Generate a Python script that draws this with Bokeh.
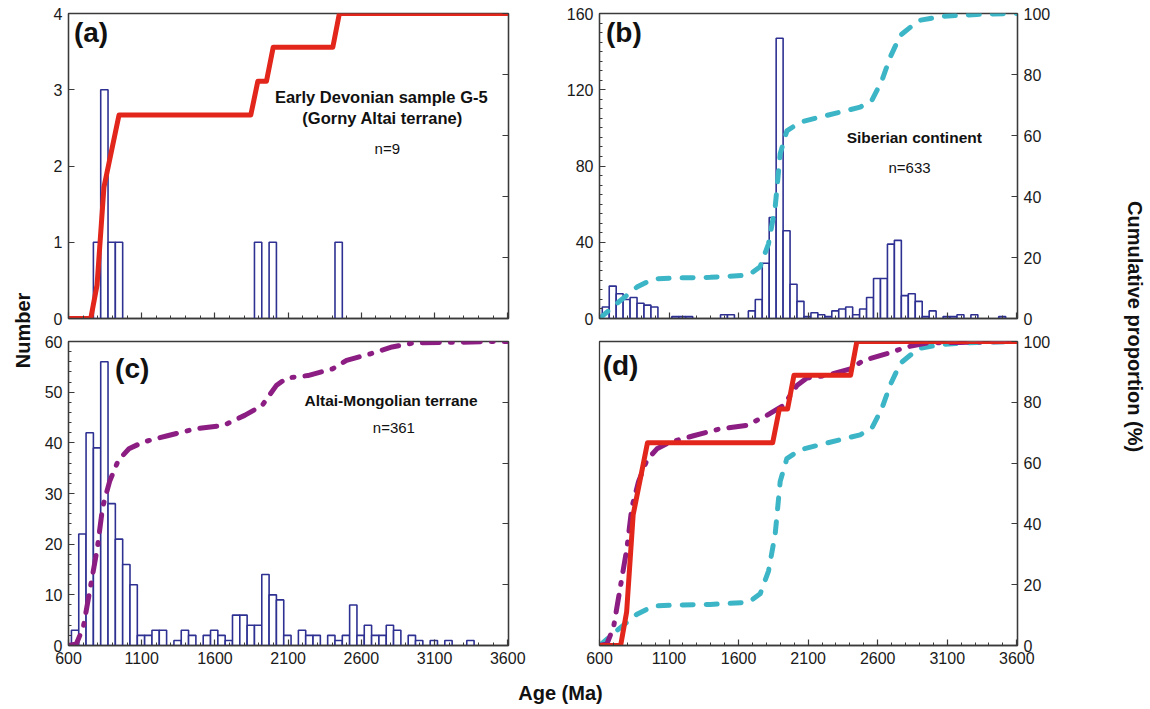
from bokeh.plotting import figure
from bokeh.layouts import row, column
from bokeh.models import Range1d, LinearAxis, FixedTicker
from bokeh.core.properties import value
from bokeh.embed import file_html
from bokeh.resources import INLINE
from math import pi

FONT = "Liberation Sans"
NAVY = "#2e3192"
RED = "#e3261b"
CYAN = "#3cb6c6"
PURPLE = "#8c1d82"
AXC = "#3a3a3a"

# ---------------- data ----------------
BIN_W = 50
bin_left = list(range(620, 3520, 50))  # 58 bins of 50 Ma (620 ... 3470)

# (a) Early Devonian sample G-5 (n=9)
counts_a = [0, 0, 0, 1, 3, 1, 1, 0, 0, 0,
            0, 0, 0, 0, 0, 0, 0, 0, 0, 0,
            0, 0, 0, 0, 0, 1, 0, 1, 0, 0,
            0, 0, 0, 0, 0, 0, 1, 0, 0, 0,
            0, 0, 0, 0, 0, 0, 0, 0, 0, 0,
            0, 0, 0, 0, 0, 0, 0, 0]
# (b) Siberian continent (n=633)
counts_b = [6, 17, 13, 10, 11, 8, 7, 6, 0, 0,
            1, 1, 1, 0, 0, 0, 0, 2, 2, 0,
            0, 4, 10, 29, 53, 147, 46, 18, 9, 1,
            3, 2, 1, 4, 5, 6, 2, 5, 11, 21,
            21, 39, 41, 12, 13, 9, 1, 4, 0, 1,
            1, 2, 0, 2, 0, 0, 0, 1]
# (c) Altai-Mongolian terrane (n=361)
counts_c = [3, 22, 42, 39, 56, 28, 21, 16, 12, 2,
            2, 3, 3, 0, 1, 3, 2, 0, 2, 3,
            2, 1, 6, 6, 4, 4, 14, 10, 9, 2,
            0, 3, 2, 2, 0, 2, 1, 2, 8, 2,
            4, 2, 2, 4, 3, 0, 2, 1, 0, 1,
            0, 1, 0, 0, 1, 0, 0, 0]

# cumulative proportion curves (%)
red_age = [600, 752, 795, 842, 945, 1845, 1893, 1952, 1998, 2405, 2450, 3605]
red_cum = [0, 0, 11, 43, 66.7, 66.7, 77.8, 77.8, 88.9, 88.9, 100, 100]

cyan_age = [600, 737, 869, 988, 1156, 1396, 1671, 1755, 1815, 1863, 1899, 1947,
            2043, 2235, 2474, 2558, 2630, 2690, 2762, 2893, 3073, 3313, 3605]
cyan_cum = [0, 5.4, 10.3, 13, 13.3, 13.5, 14.2, 17, 24.5, 36.6, 54, 61.5,
            64.4, 66.6, 69.3, 71.5, 78, 85.7, 92.8, 97.7, 99.1, 99.7, 100]

purple_age = [600, 653, 701, 749, 797, 833, 881, 941, 1013, 1108, 1276, 1468,
              1660, 1803, 1923, 2019, 2091, 2235, 2403, 2499, 2666, 2810, 2954,
              3194, 3530, 3605]
purple_cum = [0, 0.5, 6, 19, 32, 45.5, 54, 61, 64.7, 66.9, 69, 71.3,
              72.4, 75.7, 79, 85.5, 88, 88.8, 91, 93.8, 96, 98.2, 99.5,
              99.7, 100, 100]

x_ticks = [600, 1100, 1600, 2100, 2600, 3100, 3600]
x_minor = list(range(600, 3700, 100))
cum_ticks = [0, 20, 40, 60, 80, 100]


# ---------------- helpers ----------------
def style_axis(ax, labels=True, size="16px"):
    ax.axis_line_color = AXC
    ax.axis_line_width = 1.3
    ax.major_tick_in = 6
    ax.major_tick_out = 0
    ax.minor_tick_in = 3
    ax.minor_tick_out = 0
    ax.major_tick_line_color = AXC
    ax.minor_tick_line_color = AXC
    ax.major_tick_line_width = 1.2
    ax.minor_tick_line_width = 1.0
    ax.major_label_text_font = FONT
    ax.major_label_standoff = 6
    if labels:
        ax.major_label_text_font_size = size
        ax.major_label_text_color = "#1a1a1a"
    else:
        # ticks only: labels are not drawn at all
        ax.major_label_text_font_size = "1px"
        ax.major_label_text_color = None


def panel(w, h, bl, br, bt, bb, yr, yloc="left"):
    p = figure(width=w, height=h, title=None,
               x_range=Range1d(600, 3605), y_range=Range1d(*yr),
               toolbar_location=None, output_backend="svg",
               y_axis_location=yloc,
               min_border_left=bl, min_border_right=br,
               min_border_top=bt, min_border_bottom=bb)
    p.grid.visible = False
    p.outline_line_color = AXC
    p.outline_line_width = 1.3
    p.background_fill_color = "white"
    p.border_fill_color = "white"
    p.xaxis.ticker = FixedTicker(ticks=x_ticks, minor_ticks=x_minor)
    return p


def bars(p, counts):
    L = [b for b, c in zip(bin_left, counts) if c > 0]
    R = [b + BIN_W for b, c in zip(bin_left, counts) if c > 0]
    T = [c for c in counts if c > 0]
    p.quad(left=L, right=R, bottom=0, top=T, fill_color="white",
           line_color=NAVY, line_width=1.6)


def cum_axis(p, labels):
    p.extra_y_ranges = {"cum": Range1d(0, 100)}
    ax = LinearAxis(y_range_name="cum",
                    ticker=FixedTicker(ticks=cum_ticks, minor_ticks=[]))
    style_axis(ax, labels=labels)
    p.add_layout(ax, "right")


def txt(p, x, y, s, size, bold=False):
    p.text(x=[x], y=[y], text=[s], text_font=value(FONT),
           text_font_size=size, text_font_style="bold" if bold else "normal",
           text_align="center", text_baseline="middle", text_color="#111111")


def red_line(p, yname=None):
    kw = {"y_range_name": yname} if yname else {}
    p.line(red_age, red_cum, line_color=RED, line_width=5,
           line_cap="round", line_join="round", **kw)


def cyan_line(p, yname=None):
    kw = {"y_range_name": yname} if yname else {}
    p.line(cyan_age, cyan_cum, line_color=CYAN, line_width=5,
           line_dash="11 13", line_cap="round", line_join="round", **kw)


def purple_line(p, yname=None):
    kw = {"y_range_name": yname} if yname else {}
    p.line(purple_age, purple_cum, line_color=PURPLE, line_width=5,
           line_dash="17 11 2 11", line_cap="round", line_join="round", **kw)


# ---------------- panel (a) ----------------
pa = panel(520, 329, 28, 52, 13, 11, (0, 4))
style_axis(pa.xaxis[0], labels=False)
pa.yaxis.ticker = FixedTicker(ticks=[0, 1, 2, 3, 4], minor_ticks=[])
style_axis(pa.yaxis[0])
cum_axis(pa, labels=False)
bars(pa, counts_a)
red_line(pa, "cum")
txt(pa, 754, 3.755, "(a)", "28px", bold=True)
txt(pa, 2736, 2.902, "Early Devonian sample G-5", "16.5px", bold=True)
txt(pa, 2745, 2.636, "(Gorny Altai terrane)", "16.5px", bold=True)
txt(pa, 2777, 2.233, "n=9", "15px")

# ---------------- panel (b) ----------------
pb = panel(555, 329, 39, 98, 13, 11, (0, 160))
style_axis(pb.xaxis[0], labels=False)
pb.yaxis.ticker = FixedTicker(ticks=[0, 40, 80, 120, 160],
                              minor_ticks=list(range(0, 161, 5)))
style_axis(pb.yaxis[0])
cum_axis(pb, labels=True)
bars(pb, counts_b)
cyan_line(pb, "cum")
txt(pb, 775, 150.2, "(b)", "28px", bold=True)
txt(pb, 2863, 95.1, "Siberian continent", "15.5px", bold=True)
txt(pb, 2829, 79.4, "n=633", "15px")

# ---------------- panel (c) ----------------
pc = panel(520, 351, 28, 52, 11, 35, (0, 60))
style_axis(pc.xaxis[0])
pc.yaxis.ticker = FixedTicker(ticks=[0, 10, 20, 30, 40, 50, 60],
                              minor_ticks=list(range(0, 61, 2)))
style_axis(pc.yaxis[0])
cum_axis(pc, labels=False)
bars(pc, counts_c)
purple_line(pc, "cum")
txt(pc, 1035, 54.75, "(c)", "28px", bold=True)
txt(pc, 2803, 48.33, "Altai-Mongolian terrane", "15.5px", bold=True)
txt(pc, 2822, 43.08, "n=361", "15px")

# ---------------- panel (d) ----------------
pd_ = panel(555, 351, 39, 98, 12, 35, (0, 100), yloc="right")
style_axis(pd_.xaxis[0])
pd_.yaxis.ticker = FixedTicker(ticks=cum_ticks, minor_ticks=[])
style_axis(pd_.yaxis[0])
cyan_line(pd_)
purple_line(pd_)
red_line(pd_)
txt(pd_, 751, 92.1, "(d)", "28px", bold=True)


# ---------------- outer axis titles ----------------
def strip(w, h):
    s = figure(width=w, height=h, title=None,
               x_range=Range1d(0, 1), y_range=Range1d(0, 1),
               toolbar_location=None, output_backend="svg",
               x_axis_type=None, y_axis_type=None, min_border=0)
    s.outline_line_color = None
    s.background_fill_color = "white"
    s.border_fill_color = "white"
    return s


sl = strip(40, 709)
sl.text(x=[0.55], y=[0.5346], text=["Number"], angle=pi / 2,
        text_font=value(FONT), text_font_size="20px", text_font_style="bold",
        text_align="center", text_baseline="middle", text_color="#111111")

sr = strip(35, 709)
sr.text(x=[0.57], y=[0.54], text=["Cumulative proportion (%)"], angle=-pi / 2,
        text_font=value(FONT), text_font_size="20px", text_font_style="bold",
        text_align="center", text_baseline="middle", text_color="#111111")

sb = strip(1075, 29)
sb.text(x=[0.4837], y=[0.56], text=["Age (Ma)"],
        text_font=value(FONT), text_font_size="20px", text_font_style="bold",
        text_align="center", text_baseline="middle", text_color="#111111")

layout = row(sl, column(row(pa, pb), row(pc, pd_), sb), sr)

open("out.html", "w").write(file_html(layout, INLINE))
